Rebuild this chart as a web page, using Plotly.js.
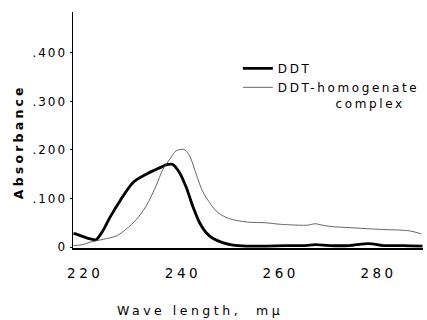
<!DOCTYPE html>
<html>
<head>
<meta charset="utf-8">
<script src="https://cdn.plot.ly/plotly-3.0.1.min.js"></script>
<style>
  html, body { margin: 0; padding: 0; background: #fff; }
  #chart { width: 427px; height: 320px; }
  .xtick text { letter-spacing: 3.5px; }
  .ytick text { letter-spacing: 2px; }
  text.legendtext { letter-spacing: 2.6px; }
  g.annotation[data-index="0"] text { letter-spacing: 3.2px; }
  g.annotation[data-index="1"] text { letter-spacing: 3.5px; }
</style>
</head>
<body>
<div id="chart"></div>
<script>
// Wavelength (m\u03bc) and absorbance
var ddtWave = [217.6, 218.6, 220.0, 221.0, 222.2, 223.7, 225.0, 227.1, 229.8, 232.5, 235.2, 236.9, 237.9, 239.3, 240.7, 242.0, 243.4, 244.7, 246.1, 248.1, 250.2, 253, 257, 261, 265, 267, 270, 274, 278, 281, 285, 289];
var ddtAbs  = [0.028, 0.025, 0.020, 0.017, 0.015, 0.035, 0.060, 0.095, 0.133, 0.150, 0.163, 0.170, 0.170, 0.153, 0.122, 0.084, 0.050, 0.030, 0.018, 0.009, 0.004, 0.002, 0.002, 0.003, 0.003, 0.005, 0.003, 0.003, 0.007, 0.003, 0.003, 0.002];

var cplxWave = [217.6, 219.5, 221.0, 223.7, 226.4, 228.4, 230.5, 232.5, 234.5, 235.9, 237.3, 238.6, 240.2, 241.3, 242.7, 244.0, 245.4, 246.8, 248.8, 250.8, 253.6, 256.9, 259.7, 263.7, 265.5, 267.1, 268.5, 270.5, 274, 277.3, 281, 284.1, 286.5, 288.8];
var cplxAbs  = [0.003, 0.005, 0.010, 0.016, 0.023, 0.037, 0.057, 0.085, 0.126, 0.160, 0.181, 0.198, 0.201, 0.189, 0.150, 0.115, 0.092, 0.074, 0.061, 0.055, 0.051, 0.050, 0.047, 0.045, 0.045, 0.048, 0.045, 0.042, 0.040, 0.038, 0.036, 0.035, 0.033, 0.027];

var xTickVals = [220, 240, 260, 280];
var xTickText = ['220', '240', '260', '280'];
var yTickVals = [0, 0.1, 0.2, 0.3, 0.4];
var yTickText = ['0', '.100', '.200', '.300', '.400'];

var seriesNames = ['DDT', 'DDT-homogenate<br>\u00a0\u00a0\u00a0\u00a0\u00a0\u00a0\u00a0\u00a0\u00a0complex'];

var fontFam = 'DejaVu Sans, sans-serif';

var traces = [
  { x: ddtWave, y: ddtAbs, type: 'scatter', mode: 'lines', name: seriesNames[0],
    line: { color: '#000000', width: 2.8, shape: 'spline', smoothing: 0.8 } },
  { x: cplxWave, y: cplxAbs, type: 'scatter', mode: 'lines', name: seriesNames[1],
    line: { color: '#555555', width: 0.9, shape: 'spline', smoothing: 0.8 } }
];

var layout = {
  width: 427, height: 320,
  margin: { l: 73, r: 2, t: 12, b: 72, pad: 0 },
  paper_bgcolor: '#ffffff', plot_bgcolor: '#ffffff',
  font: { family: fontFam, color: '#000000' },
  showlegend: true,
  legend: {
    x: 0.471, y: 0.822, xanchor: 'left', yanchor: 'top',
    bgcolor: 'rgba(0,0,0,0)', borderwidth: 0,
    font: { family: fontFam, size: 12, color: '#000000' },
    valign: 'top', itemwidth: 30, tracegroupgap: 0
  },
  xaxis: {
    range: [217.5, 289.1],
    showline: true, linecolor: '#000000', linewidth: 1.5,
    showgrid: false, zeroline: false,
    tickmode: 'array', tickvals: xTickVals, ticktext: xTickText,
    ticks: '', ticklabelstandoff: 12,
    tickfont: { family: fontFam, size: 13.5, color: '#000000' }
  },
  yaxis: {
    range: [-0.002, 0.484],
    showline: true, linecolor: '#000000', linewidth: 1.5,
    showgrid: false, zeroline: false,
    tickmode: 'array', tickvals: yTickVals, ticktext: yTickText,
    ticks: 'outside', ticklen: 2, tickcolor: '#000000', tickwidth: 1,
    tickfont: { family: fontFam, size: 12, color: '#000000' }
  },
  annotations: [
    { text: '<b>Absorbance</b>', xref: 'paper', yref: 'paper',
      x: -0.156, y: 0.45, xanchor: 'center', yanchor: 'middle', textangle: -90,
      showarrow: false, font: { family: fontFam, size: 12.5, color: '#000000' } },
    { text: 'Wave length,\u00a0\u00a0m\u03bc', xref: 'paper', yref: 'paper',
      x: 0.364, y: -0.263, xanchor: 'center', yanchor: 'middle',
      showarrow: false, font: { family: fontFam, size: 12.5, color: '#000000' } }
  ]
};

Plotly.newPlot('chart', traces, layout, { staticPlot: true, displayModeBar: false });
</script>
</body>
</html>
